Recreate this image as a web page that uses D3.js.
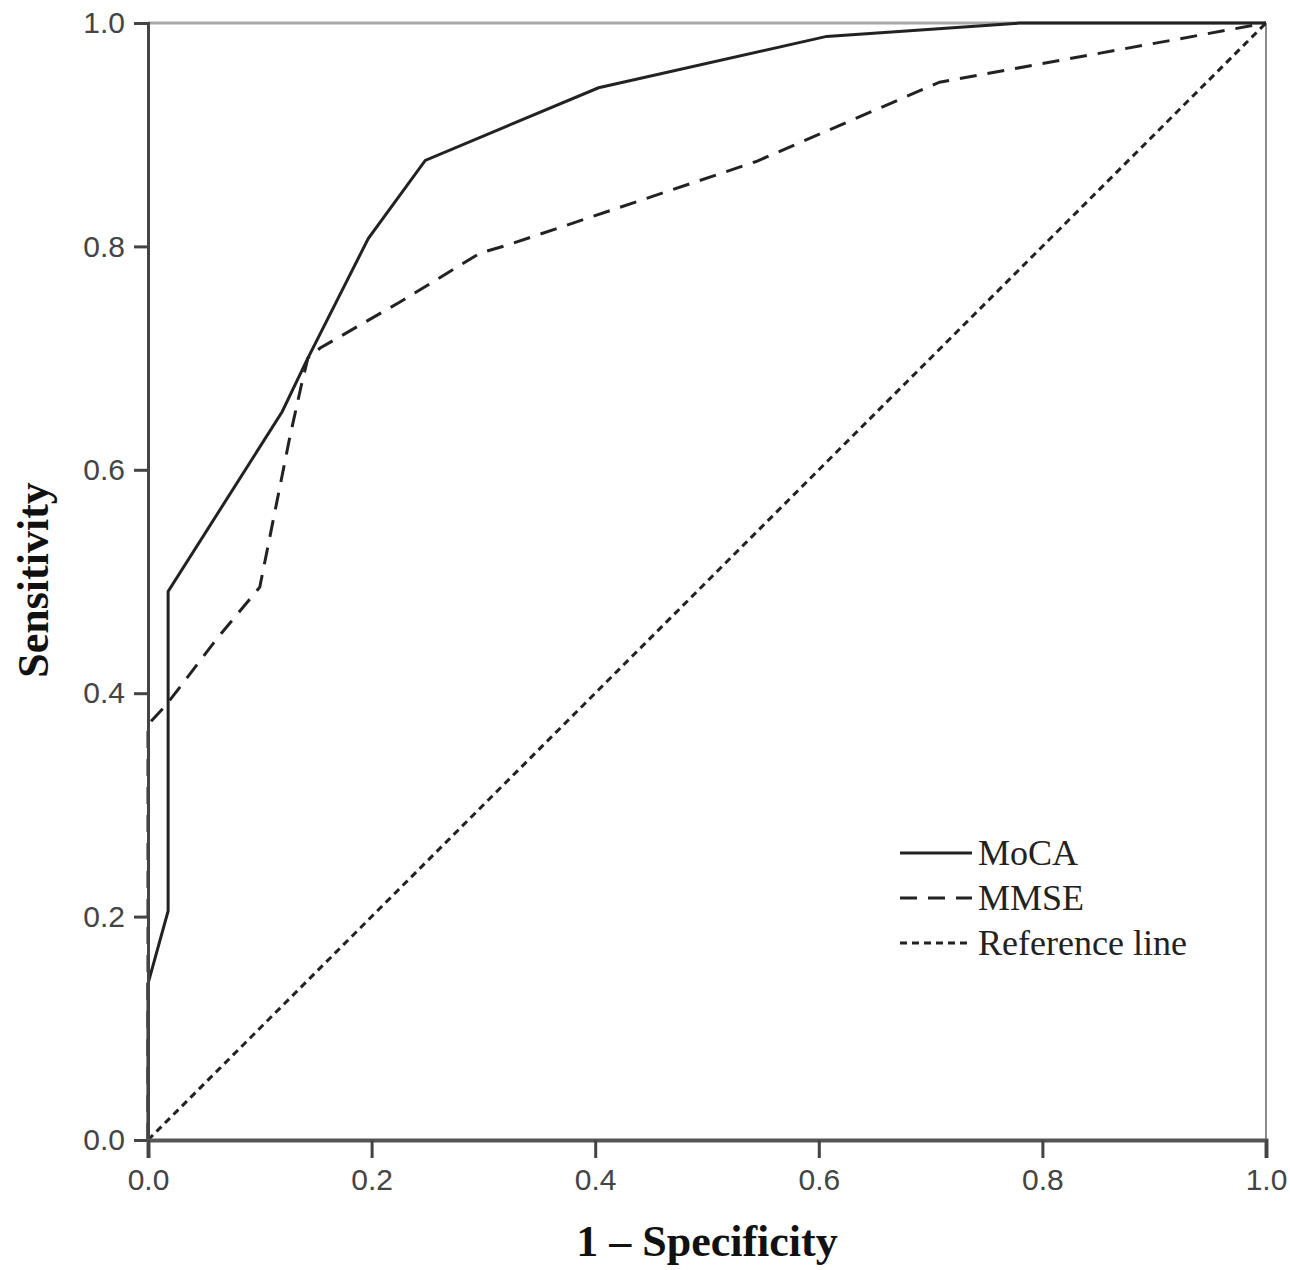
<!DOCTYPE html>
<html>
<head>
<meta charset="utf-8">
<script src="https://cdn.jsdelivr.net/npm/d3@7"></script>
<style>
  body { margin: 0; background: #fff; }
  svg { display: block; }
</style>
</head>
<body>
<svg id="chart" width="1290" height="1270"></svg>
<script>
// ROC data: 1 - specificity (x) and sensitivity (y)

var mocaX = [0, 0, 0.018, 0.018, 0.120, 0.142, 0.197, 0.248, 0.403, 0.607, 0.780, 1];
var mocaY = [0, 0.140, 0.205, 0.491, 0.652, 0.698, 0.807, 0.877, 0.942, 0.988, 1, 1];

var mmseX = [0, 0, 0.015, 0.029, 0.061, 0.100, 0.107, 0.117, 0.127, 0.137, 0.143, 0.154, 0.225, 0.297, 0.321, 0.544, 0.708, 0.940, 1];
var mmseY = [0, 0.372, 0.388, 0.406, 0.448, 0.495, 0.530, 0.580, 0.630, 0.675, 0.700, 0.709, 0.750, 0.794, 0.801, 0.876, 0.947, 0.989, 1];

var refX = [0, 1];
var refY = [0, 1];

var tickValues = [0, 0.2, 0.4, 0.6, 0.8, 1.0];

var seriesNames = ["MoCA", "MMSE", "Reference line"];
var seriesDash = [null, "17,11", "7,5"];

// scales

var x = d3.scaleLinear().domain([0, 1]).range([148, 1266]);
var y = d3.scaleLinear().domain([0, 1]).range([1140, 23]);

var svg = d3.select("#chart");

// frame: top and right border lines

svg.append("line")
  .attr("x1", x(0)).attr("x2", x(1))
  .attr("y1", y(1)).attr("y2", y(1))
  .attr("stroke", "#a8a8a8")
  .attr("stroke-width", 3);

svg.append("line")
  .attr("x1", x(1)).attr("x2", x(1))
  .attr("y1", y(1)).attr("y2", y(0))
  .attr("stroke", "#8a8a8a")
  .attr("stroke-width", 2);

// curves

var line = d3.line()
  .x(function (d) { return x(d[0]); })
  .y(function (d) { return y(d[1]); });

var curves = [
  d3.zip(mocaX, mocaY),
  d3.zip(mmseX, mmseY),
  d3.zip(refX, refY)
];

svg.selectAll(".roc")
  .data(curves)
  .enter()
  .append("path")
  .attr("class", "roc")
  .attr("d", line)
  .attr("fill", "none")
  .attr("stroke", "#222")
  .attr("stroke-width", 3)
  .attr("stroke-dasharray", function (d, i) { return seriesDash[i]; });

// axes, drawn over the curves so the segments along x = 0 hide behind the axis

var yAxis = svg.append("g")
  .attr("transform", "translate(" + x(0) + ",0)")
  .call(d3.axisLeft(y).tickValues(tickValues).tickFormat(d3.format(".1f")).tickSize(14).tickPadding(9));

var xAxis = svg.append("g")
  .attr("transform", "translate(0," + y(0) + ")")
  .call(d3.axisBottom(x).tickValues(tickValues).tickFormat(d3.format(".1f")).tickSize(18).tickPadding(11));

yAxis.select(".domain").attr("stroke", "#444").attr("stroke-width", 3);
xAxis.select(".domain").attr("stroke", "#555").attr("stroke-width", 4);

[yAxis, xAxis].forEach(function (ax) {
  ax.selectAll(".tick line").attr("stroke", "#444").attr("stroke-width", 3);
  ax.selectAll(".tick text")
    .attr("fill", "#444")
    .style("font-family", "'Liberation Sans', Arial, sans-serif")
    .style("font-size", "30px");
});

// axis titles

svg.append("text")
  .attr("x", 707)
  .attr("y", 1256)
  .attr("text-anchor", "middle")
  .style("font-family", "'Liberation Serif', 'Times New Roman', serif")
  .style("font-weight", "bold")
  .style("font-size", "44px")
  .attr("fill", "#111")
  .text("1 \u2013 Specificity");

svg.append("text")
  .attr("transform", "translate(48,580) rotate(-90)")
  .attr("text-anchor", "middle")
  .style("font-family", "'Liberation Serif', 'Times New Roman', serif")
  .style("font-weight", "bold")
  .style("font-size", "44px")
  .attr("fill", "#111")
  .text("Sensitivity");

// legend

var legend = svg.selectAll(".legend")
  .data(seriesNames)
  .enter()
  .append("g")
  .attr("class", "legend")
  .attr("transform", function (d, i) { return "translate(900," + (853 + i * 45) + ")"; });

legend.append("line")
  .attr("x1", 0).attr("x2", 72)
  .attr("y1", 0).attr("y2", 0)
  .attr("stroke", "#222")
  .attr("stroke-width", 3)
  .attr("stroke-dasharray", function (d, i) { return seriesDash[i]; });

legend.append("text")
  .attr("x", 78)
  .attr("y", 12)
  .style("font-family", "'Liberation Serif', 'Times New Roman', serif")
  .style("font-size", "36px")
  .attr("fill", "#222")
  .text(function (d) { return d; });
</script>
</body>
</html>
